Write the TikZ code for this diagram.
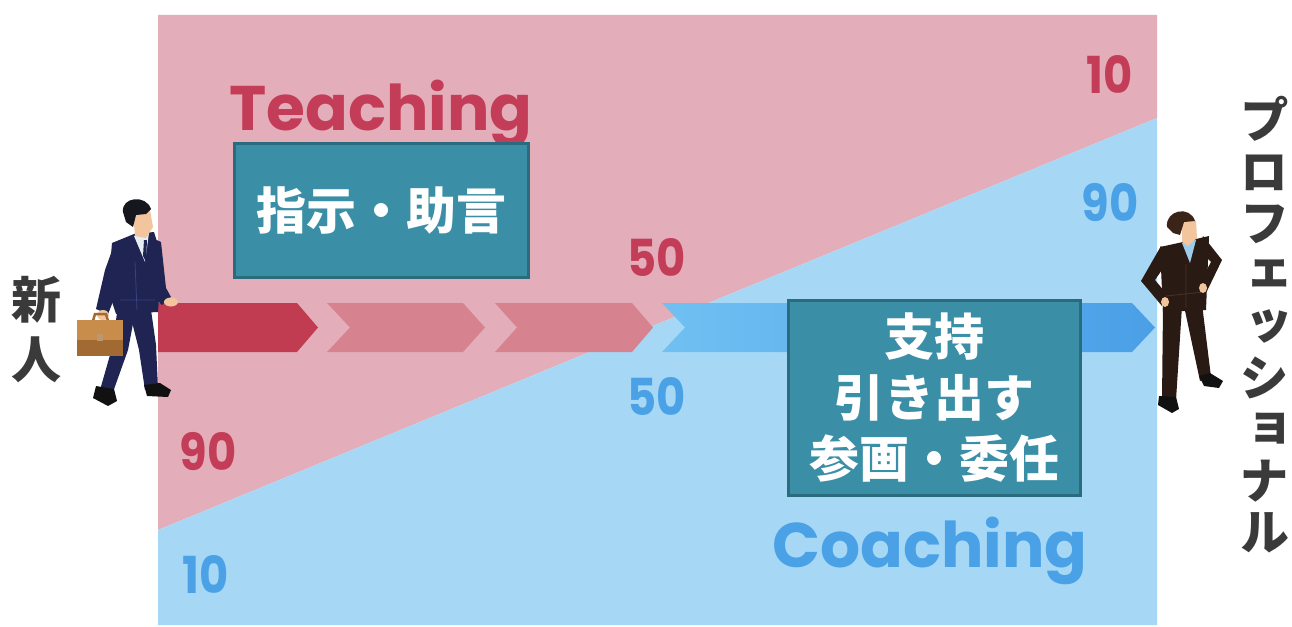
\documentclass[tikz,border=0pt]{standalone}
\usepackage{fontspec}
\setmainfont{Poppins}
\newfontfamily\jp{Noto Sans CJK JP}
\newfontfamily\jpv{Noto Sans CJK JP}[RawFeature=+vert]
\definecolor{bgpink}{HTML}{E3AEB9}
\definecolor{bgblue}{HTML}{A6D8F6}
\definecolor{arrowred}{HTML}{C13C51}
\definecolor{arrowpink}{HTML}{D6838F}
\definecolor{arrowblueL}{HTML}{70C0F2}
\definecolor{arrowblueR}{HTML}{4A9FE6}
\definecolor{boxfill}{HTML}{3A8FA6}
\definecolor{boxedge}{HTML}{2A6C7E}
\definecolor{tred}{HTML}{C43D58}
\definecolor{tblue}{HTML}{4AA1E6}
\definecolor{jpgrey}{HTML}{3A3A3A}
\definecolor{navy}{HTML}{1F2452}
\definecolor{navyline}{HTML}{3A4180}
\definecolor{brownsuit}{HTML}{2A1A14}
\definecolor{brownline}{HTML}{4A3228}
\definecolor{skin}{HTML}{F2C59C}
\definecolor{hairblack}{HTML}{16161E}
\definecolor{hairbrown}{HTML}{3A2418}
\definecolor{shirtwhite}{HTML}{E6EDF5}
\definecolor{shirtblue}{HTML}{9FCBEB}
\definecolor{casebrown}{HTML}{C98D4B}
\definecolor{casedark}{HTML}{A26A33}
\definecolor{shoe}{HTML}{111111}
\begin{document}
\begin{tikzpicture}[x=1pt,y=-1pt,
  textbox/.style={draw=boxedge,line width=3pt,fill=boxfill,text=white,
    font=\jp\bfseries\fontsize{50}{61}\selectfont,align=center,inner sep=0pt},
  bigword/.style={font=\bfseries\fontsize{63}{70}\selectfont,inner sep=0pt},
  pct/.style={font=\bfseries\fontsize{51}{55}\selectfont,inner sep=0pt},
  jplabel/.style={text=jpgrey,align=center,inner sep=0pt}]
\useasboundingbox (0,0) rectangle (1292,626);
\fill[white] (0,0) rectangle (1292,626);

% two shares of the field, split by the diagonal
\fill[bgpink] (158,15) -- (1157,15) -- (1157,118) -- (158,530) -- cycle;
\fill[bgblue] (158,530) -- (1157,118) -- (1157,625) -- (158,625) -- cycle;

% chevron arrows along the path
\fill[arrowred] (158,303) -- (297,303) -- (318,327.5) -- (297,352) -- (158,352) -- cycle;
\fill[arrowpink] (327,303) -- (463,303) -- (485,327.5) -- (463,352) -- (327,352) -- (350,327.5) -- cycle;
\fill[arrowpink] (495,303) -- (632,303) -- (653,327.5) -- (632,352) -- (495,352) -- (517,327.5) -- cycle;
\shade[left color=arrowblueL,right color=arrowblueR]
  (662,303) -- (1132,303) -- (1155,327.5) -- (1132,352) -- (662,352) -- (685,327.5) -- cycle;

% headings and percentages
\node[bigword,text=tred,anchor=base west] (teach) at (229,130) {Teaching};
\node[bigword,text=tblue,anchor=base west] (coach) at (772,567) {Coaching};
\node[pct,text=tred] (r10) at (1110,75) {\scalebox{0.88}[1]{10}};
\node[pct,text=tblue] (b90) at (1110,203) {\scalebox{0.88}[1]{90}};
\node[pct,text=tred] (r50) at (657,257) {\scalebox{0.88}[1]{50}};
\node[pct,text=tblue] (b50) at (657,396) {\scalebox{0.88}[1]{50}};
\node[pct,text=tred] (r90) at (208,452) {\scalebox{0.88}[1]{90}};
\node[pct,text=tblue] (b10) at (206,574) {\scalebox{0.88}[1]{10}};

% text boxes
\node[textbox,minimum width=294pt,minimum height=134pt] (advise) at (381,210) {指示・助言};
\node[textbox,minimum width=292pt,minimum height=195pt] (support) at (934,397.5) {支持\\引き出す\\参画・委任};

% side labels
\node[jplabel,font=\jp\bfseries\fontsize{50}{60}\selectfont] (novice) at (36,330) {新\\人};
\node[jplabel,font=\jpv\bfseries\fontsize{50}{51.5}\selectfont] (pro) at (1264,325)
  {プ\\ロ\\フ\\ェ\\ッ\\シ\\ョ\\ナ\\ル};

% newcomer walking with a briefcase
\begin{scope}
  \fill[navy] (118,306) -- (136,308) -- (128,350) -- (113,392) -- (100,390) -- (112,348) -- cycle;
  \fill[navy] (128,306) -- (150,303) -- (156,345) -- (158,388) -- (145,390) -- (139,350) -- cycle;
  \fill[shoe] (96,386) -- (114,389) -- (117,401) -- (108,406) -- (93,398) -- cycle;
  \fill[shoe] (144,385) -- (160,383) -- (171,390) -- (168,397) -- (147,396) -- cycle;
  \fill[navy] (112,243) -- (134,234) -- (154,232) -- (162,258) -- (158,312) -- (116,314) -- (108,290) -- cycle;
  \fill[navy] (148,236) -- (161,242) -- (166,288) -- (171,297) -- (162,305) -- (153,296) -- (150,268) -- cycle;
  \fill[skin] (171,302) ellipse (7 and 4.5);
  \fill[navy] (114,245) -- (105,270) -- (96,309) -- (108,314) -- (120,284) -- cycle;
  \draw[navyline,line width=0.8pt] (135,262) -- (137,310) (120,300) -- (155,300);
  \fill[skin] (103,315) ellipse (6 and 5);
  \draw[casedark,line width=2.5pt] (93,321) -- (95,314) -- (106,314) -- (108,321);
  \fill[casebrown] (77,320) rectangle (123,356);
  \fill[casedark] (77,340) rectangle (123,356);
  \fill[casedark!70!white] (97,334) rectangle (103,341);
  \fill[shirtwhite] (134,236) -- (149,233) -- (145,262) -- cycle;
  \fill[navy] (144,240) -- (147,240) -- (146,262) -- (143,256) -- cycle;
  \fill[skin] (133,212) -- (150,210) -- (153,227) -- (146,238) -- (135,236) -- cycle;
  \fill[hairblack] (123,212) .. controls (121,197) and (146,194) .. (151,209)
    -- (146,214) -- (136,215) -- (133,227) -- (126,222) -- cycle;
\end{scope}

% professional standing with hands on hips
\begin{scope}
  \fill[brownsuit] (1163,306) -- (1182,306) -- (1176,400) -- (1162,400) -- cycle;
  \fill[brownsuit] (1184,306) -- (1202,304) -- (1211,377) -- (1200,381) -- cycle;
  \fill[shoe] (1159,396) -- (1176,397) -- (1179,409) -- (1172,413) -- (1158,405) -- cycle;
  \fill[shoe] (1199,376) -- (1210,373) -- (1223,381) -- (1219,388) -- (1204,386) -- cycle;
  \fill[brownsuit] (1160,247) -- (1183,242) -- (1209,236) -- (1206,310) -- (1163,312) -- cycle;
  \fill[brownsuit] (1161,246) -- (1141,281) -- (1162,306) -- (1169,297) -- (1155,280) -- (1170,258) -- cycle;
  \fill[brownsuit] (1203,236) -- (1222,260) -- (1207,291) -- (1199,284) -- (1211,262) -- (1199,250) -- cycle;
  \draw[brownline,line width=0.8pt] (1186,264) -- (1186,308) (1166,296) -- (1204,292);
  \fill[skin] (1165,302) ellipse (4 and 5);
  \fill[skin] (1203,288) ellipse (4 and 5);
  \fill[shirtblue] (1182,243) -- (1196,240) -- (1190,263) -- cycle;
  \fill[skin] (1182,220) -- (1196,221) -- (1197,238) -- (1188,246) -- (1182,242) -- cycle;
  \fill[hairbrown] (1167,227) .. controls (1165,210) and (1190,205) .. (1195,221)
    -- (1184,222) -- (1180,235) -- (1173,233) -- cycle;
\end{scope}
\end{tikzpicture}
\end{document}
